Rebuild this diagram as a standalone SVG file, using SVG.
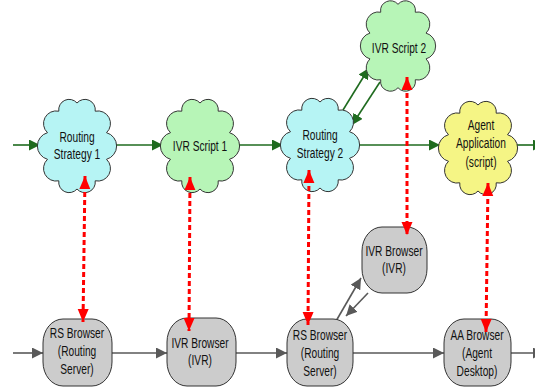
<svg xmlns="http://www.w3.org/2000/svg" xmlns:xlink="http://www.w3.org/1999/xlink" width="535" height="387" viewBox="0 0 535 387">
  <style>
    .cloud { stroke: #333333; stroke-width: 1; }
    .cyan { fill: #b6f4f4; }
    .green { fill: #b7f5b7; }
    .yellow { fill: #f5f585; }
    .box { fill: #cccccc; stroke: #333333; stroke-width: 1; }
    .label { font-family: "Liberation Sans", Arial, sans-serif; font-size: 15px; fill: #111111; text-anchor: middle; }
    .flow { fill: none; stroke: #1f6b1f; stroke-width: 1.6; marker-end: url(#arrowGreen); }
    .call { fill: none; stroke: #595959; stroke-width: 1.6; marker-end: url(#arrowGray); }
    .link { fill: none; stroke: #ff0000; stroke-width: 3; stroke-dasharray: 5 3; marker-start: url(#arrowRed); marker-end: url(#arrowRed); }
  </style>
  <defs>
    <!-- scalloped cloud outline, centred on the origin -->
    <path id="cloudShape" d="M29.5,-13.3 A13.8,13.8 0 0 1 29.5,13.3 A12.6,12.6 0 0 1 18.2,34.8 A10.4,10.4 0 0 1 0,43 A10.4,10.4 0 0 1 -18.2,34.8 A12.6,12.6 0 0 1 -29.5,13.3 A13.8,13.8 0 0 1 -29.5,-13.3 A12.6,12.6 0 0 1 -18.2,-34.8 A10.4,10.4 0 0 1 0,-43 A10.4,10.4 0 0 1 18.2,-34.8 A12.6,12.6 0 0 1 29.5,-13.3 Z"/>
    <marker id="arrowGreen" markerUnits="userSpaceOnUse" markerWidth="12" markerHeight="12" refX="11" refY="5.5" orient="auto">
      <path d="M0,0 L11,5.5 L0,11 Z" fill="#1f6b1f"/>
    </marker>
    <marker id="arrowGray" markerUnits="userSpaceOnUse" markerWidth="12" markerHeight="12" refX="11" refY="5.5" orient="auto">
      <path d="M0,0 L11,5.5 L0,11 Z" fill="#595959"/>
    </marker>
    <marker id="arrowRed" markerUnits="userSpaceOnUse" markerWidth="14" markerHeight="12" refX="13" refY="5.5" orient="auto-start-reverse">
      <path d="M0,0 L13,5.5 L0,11 Z" fill="#ff0000"/>
    </marker>
  </defs>

  <!-- connectors -->
  <g id="connectors">
    <!-- script flow -->
    <path class="flow" d="M13,145 H40"/>
    <path class="flow" d="M115,145 H163"/>
    <path class="flow" d="M238,145 H283"/>
    <path class="flow" d="M357,145 H440"/>
    <path class="flow" d="M516,145 H544"/>
    <path class="flow" d="M343,110 L369,68"/>
    <path class="flow" d="M380,82 L352,125"/>
    <!-- browser flow -->
    <path class="call" d="M13,353 H43"/>
    <path class="call" d="M112,353 H167"/>
    <path class="call" d="M236,353 H287"/>
    <path class="call" d="M353,353 H444"/>
    <path class="call" d="M511,353 H544"/>
    <path class="call" d="M332,328 L361,278"/>
    <path class="call" d="M368,293 L346,316"/>
  </g>

  <!-- scripts -->
  <g id="routing-strategy-1">
    <use xlink:href="#cloudShape" class="cloud cyan" transform="translate(77,146)"/>
    <text class="label" transform="translate(77,0) scale(0.68,1)"><tspan x="0" y="142">Routing</tspan><tspan x="0" y="159">Strategy 1</tspan></text>
  </g>
  <g id="ivr-script-1">
    <use xlink:href="#cloudShape" class="cloud green" transform="translate(200,146)"/>
    <text class="label" transform="translate(200,0) scale(0.68,1)"><tspan x="0" y="151">IVR Script 1</tspan></text>
  </g>
  <g id="routing-strategy-2">
    <use xlink:href="#cloudShape" class="cloud cyan" transform="translate(320,145)"/>
    <text class="label" transform="translate(320,0) scale(0.68,1)"><tspan x="0" y="140">Routing</tspan><tspan x="0" y="158">Strategy 2</tspan></text>
  </g>
  <g id="ivr-script-2">
    <use xlink:href="#cloudShape" class="cloud green" transform="translate(398,46) scale(0.95,0.97)"/>
    <text class="label" transform="translate(399,0) scale(0.68,1)"><tspan x="0" y="53">IVR Script 2</tspan></text>
  </g>
  <g id="agent-application">
    <use xlink:href="#cloudShape" class="cloud yellow" transform="translate(478,148)"/>
    <text class="label" transform="translate(481,0) scale(0.68,1)"><tspan x="0" y="130">Agent</tspan><tspan x="0" y="148">Application</tspan><tspan x="0" y="167">(script)</tspan></text>
  </g>

  <!-- browsers -->
  <g id="rs-browser-1">
    <rect class="box" x="43" y="319" width="69" height="67" rx="20" ry="24"/>
    <text class="label" transform="translate(77,0) scale(0.68,1)"><tspan x="0" y="338">RS Browser</tspan><tspan x="0" y="356">(Routing</tspan><tspan x="0" y="374">Server)</tspan></text>
  </g>
  <g id="ivr-browser-1">
    <rect class="box" x="167" y="318" width="69" height="68" rx="20" ry="24"/>
    <text class="label" transform="translate(200,0) scale(0.68,1)"><tspan x="0" y="348">IVR Browser</tspan><tspan x="0" y="365">(IVR)</tspan></text>
  </g>
  <g id="rs-browser-2">
    <rect class="box" x="287" y="319" width="66" height="67" rx="20" ry="24"/>
    <text class="label" transform="translate(320,0) scale(0.68,1)"><tspan x="0" y="340">RS Browser</tspan><tspan x="0" y="358">(Routing</tspan><tspan x="0" y="376">Server)</tspan></text>
  </g>
  <g id="ivr-browser-2">
    <rect class="box" x="362" y="227" width="65" height="66" rx="20" ry="24"/>
    <text class="label" transform="translate(394,0) scale(0.68,1)"><tspan x="0" y="256">IVR Browser</tspan><tspan x="0" y="273">(IVR)</tspan></text>
  </g>
  <g id="aa-browser">
    <rect class="box" x="444" y="319" width="67" height="67" rx="20" ry="24"/>
    <text class="label" transform="translate(477,0) scale(0.68,1)"><tspan x="0" y="340">AA Browser</tspan><tspan x="0" y="358">(Agent</tspan><tspan x="0" y="376">Desktop)</tspan></text>
  </g>

  <!-- script-to-browser associations -->
  <g id="associations">
    <path class="link" d="M85,176 L83,322"/>
    <path class="link" d="M190,177 L189,331"/>
    <path class="link" d="M309,170 L308,325"/>
    <path class="link" d="M407,77 L407,235"/>
    <path class="link" d="M488,183 L486,332"/>
  </g>
</svg>
